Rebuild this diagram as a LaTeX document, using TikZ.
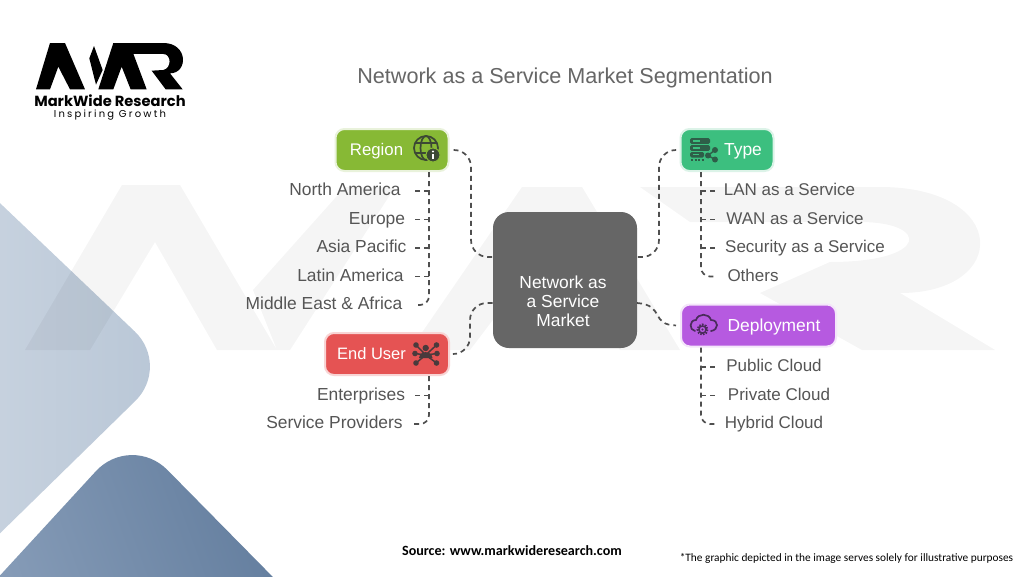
\documentclass[tikz,border=0pt]{standalone}
\usepackage{fontspec}
\setmainfont{Liberation Sans}
\newfontfamily\logofont{Poppins}
\newfontfamily\calib{Carlito}
\usetikzlibrary{calc}
\definecolor{ink}{HTML}{555555}
\definecolor{lineink}{HTML}{4F4F4F}
\definecolor{regionc}{HTML}{87B935}
\definecolor{typec}{HTML}{3CBF7F}
\definecolor{deployc}{HTML}{B65AE0}
\definecolor{userc}{HTML}{E55353}
\tikzset{
  catbox/.style={rounded corners=9pt,minimum height=42pt,inner sep=0pt,line width=2pt},
  itemlabel/.style={inner sep=0pt,text=ink,font=\fontsize{17.4}{19}\selectfont,text height=12.5pt,text depth=3.5pt},
  itemright/.style={itemlabel,font=\fontsize{17}{19}\selectfont},
  catlabel/.style={inner sep=0pt,text=white,font=\fontsize{17.4}{19}\selectfont,text height=12.5pt,text depth=3.5pt},
  conn/.style={draw=lineink,line width=1.7pt,dash pattern=on 5pt off 4pt},
  mark stroke/.style={line width=1.7pt,fill=none},
}
\begin{document}
\begin{tikzpicture}[x=1pt,y=-1pt]
\useasboundingbox (0,0) rectangle (1024,576);
\fill[white] (0,0) rectangle (1024,576);
% background diamonds
\begin{scope}
\clip (0,0) rectangle (1024,576);
\shade[rounded corners=50pt,left color={rgb,255:red,203;green,213;blue,225},right color={rgb,255:red,184;green,198;blue,214}]
  (-60,146) -- (171,366) -- (-60,592) -- cycle;
\shade[rounded corners=52pt,left color={rgb,255:red,146;green,166;blue,192},right color={rgb,255:red,88;green,116;blue,150},shading angle=110]
  (-120,706) -- (131,433) -- (400,706) -- cycle;
% large faint watermark
\fill[black,opacity=.04]
  (25,350) -- (122,185) -- (180,185) -- (277,350) -- (217,350) -- (155,242) -- (90,350) -- cycle
  (253,290) -- (345,187) -- (395,187) -- (290,350) -- (277,350) -- cycle
  (410,350) -- (522,187) -- (582,187) -- (680,350) -- (620,350) -- (552,242) -- (470,350) -- cycle
  (640,187) -- (880,187) .. controls (1010,187) and (1010,293) .. (900,293) -- (995,350) -- (862,350) -- (760,293) -- (830,262)
  .. controls (930,262) and (930,222) .. (860,222) -- (690,222) -- cycle;
\end{scope}
% logo
\begin{scope}[shift={(0,20)},x=.3333pt,y=-.3333pt]
\fill[black] (108,208) -- (150,69) -- (195,69) -- (255,208) -- (210,208) -- (175,140) -- (150,208) -- cycle;
\fill[black] (268,115) -- (282,78) -- (308,150) -- (288,194) -- cycle;
\fill[black] (295,208) -- (340,69) -- (388,69) -- (440,208) -- (392,208) -- (365,140) -- (340,208) -- cycle;
\fill[black] (378,69) -- (490,69) .. controls (565,69) and (565,160) .. (510,160) -- (548,208) -- (497,208) -- (455,152) -- (490,150)
  .. controls (515,145) and (515,102) .. (490,102) -- (395,102) -- cycle;
\end{scope}
\node[name=logoname,inner sep=0pt,font=\logofont\bfseries\fontsize{14.66}{16}\selectfont] at (110,100.5) {MarkWide Research};
\node[name=logotag,inner sep=0pt,font=\logofont\fontsize{10}{12}\selectfont\addfontfeature{LetterSpace=22}] at (110,115.5) {Inspiring Growth};
% title
\node[name=title,inner sep=0pt,text=ink!90!white,font=\fontsize{21.6}{24}\selectfont] at (565,77.5) {Network as a Service Market Segmentation};
% boxes
\node[catbox,name=center,fill=black!60,minimum width=144pt,minimum height=136pt,rounded corners=16pt] at (565,280) {};
\node[catbox,name=region,fill=regionc,draw=regionc!18!white,minimum width=113pt] at (392,150) {};
\node[catbox,name=typebox,fill=typec,draw=typec!18!white,minimum width=93pt] at (727,150) {};
\node[catbox,name=deploy,fill=deployc,draw=deployc!15!white,minimum width=155pt] at (758.5,325.5) {};
\node[catbox,name=enduser,fill=userc,draw=userc!25!white,minimum width=124pt] at (387,354) {};
\node[name=centertext,align=center,text=white,inner sep=0pt,font=\fontsize{17.4}{19}\selectfont] at (563,301) {Network as\\a Service\\Market};
\node[catlabel,name=regionlabel,font=\fontsize{16.8}{19}\selectfont] at (376.5,151) {Region};
\node[catlabel,name=typelabel] at (743,151) {Type};
\node[catlabel,name=deploylabel] at (774,327) {Deployment};
\node[catlabel,name=userlabel,font=\fontsize{16.5}{19}\selectfont] at (371.5,355) {End User};
% items
\node[itemlabel,name=na] at (345,191) {North America};
\node[itemlabel,name=eu] at (377,219.5) {Europe};
\node[itemlabel,name=ap] at (361.5,248) {Asia Pacific};
\node[itemlabel,name=la] at (350.5,276.5) {Latin America};
\node[itemlabel,name=me] at (324,305) {Middle East \& Africa};
\node[itemlabel,name=en] at (361,395.5) {Enterprises};
\node[itemlabel,name=sp] at (334.5,424) {Service Providers};
\node[itemright,name=lan] at (789.5,191) {LAN as a Service};
\node[itemright,name=wan] at (795,219.5) {WAN as a Service};
\node[itemright,name=sec] at (805,248) {Security as a Service};
\node[itemright,name=oth] at (753,276.5) {Others};
\node[itemright,name=pub] at (774,367) {Public Cloud};
\node[itemright,name=pri] at (779,395.5) {Private Cloud};
\node[itemright,name=hyb] at (774,424) {Hybrid Cloud};
% trunks
\coordinate (trL) at (429,0);
\coordinate (trR) at (701,0);
\coordinate (busRegion) at (471,0);
\coordinate (busUser) at (470,0);
\coordinate (busType) at (659,0);
\coordinate (inA) at (493,257);
\coordinate (inB) at (493,303);
\coordinate (inC) at (637,257);
\coordinate (inD) at (637,303);
% centre connectors
\draw[conn,rounded corners=17pt,shorten <=4pt] (region.east) -- (busRegion |- region.east) -- (busRegion |- inA) -- (inA);
\draw[conn,rounded corners=17pt,shorten <=4pt] (typebox.west) -- (busType |- typebox.west) -- (busType |- inC) -- (inC);
\draw[conn,rounded corners=17pt,shorten <=4pt] (enduser.east) -- (busUser |- enduser.east) -- (busUser |- inB) -- (inB);
\draw[conn,shorten >=4pt] (inD) .. controls (665,305) and (650,325) .. (deploy.west);
% region branches
\draw[conn,rounded corners=9pt,shorten >=12pt] (trL |- region.south) -- (trL |- me) -- (me.east);
\draw[conn,shorten >=13pt] (trL |- na) -- (na.east);
\draw[conn,shorten >=10pt] (trL |- eu) -- (eu.east);
\draw[conn,shorten >=7pt] (trL |- ap) -- (ap.east);
\draw[conn,shorten >=10pt] (trL |- la) -- (la.east);
% user branches
\draw[conn,rounded corners=9pt,shorten >=11pt] (trL |- enduser.south) -- (trL |- sp) -- (sp.east);
\draw[conn,shorten >=10pt] (trL |- en) -- (en.east);
% type branches
\draw[conn,rounded corners=9pt,shorten >=11pt] (trR |- typebox.south) -- (trR |- oth) -- (oth.west);
\draw[conn,shorten >=8pt] (trR |- lan) -- (lan.west);
\draw[conn,shorten >=11pt] (trR |- wan) -- (wan.west);
\draw[conn,shorten >=9pt] (trR |- sec) -- (sec.west);
% deployment branches
\draw[conn,rounded corners=9pt,shorten >=8pt] (trR |- deploy.south) -- (trR |- hyb) -- (hyb.west);
\draw[conn,shorten >=10pt] (trR |- pub) -- (pub.west);
\draw[conn,shorten >=12pt] (trR |- pri) -- (pri.west);
% globe icon
\begin{scope}[draw={rgb,255:red,60;green,72;blue,52}]
\draw[mark stroke] (426,148) circle (12);
\draw[mark stroke] (426,148) ellipse (5.5 and 12);
\draw[mark stroke] (415,143) -- (437,143) (415,153) -- (437,153);
\fill[fill={rgb,255:red,60;green,72;blue,52},draw=regionc,line width=1pt] (433,155) circle (7);
\fill[white] (432.1,153.6) rectangle (433.9,159);
\fill[white] (433,151.5) circle (1.1);
\end{scope}
% server icon
\begin{scope}
\definecolor{sv}{HTML}{2E5E48}
\foreach \yy in {141,148}{\fill[sv,rounded corners=1.5pt] (690,\yy-2.8) rectangle (710,\yy+2.8);
  \fill[typec] (693,\yy-.7) rectangle (700,\yy+.7);}
\fill[sv,rounded corners=1.5pt] (690,152) rectangle (704,157.5);
\fill[typec] (693,154) rectangle (699,155.3);
\draw[sv,line width=1.1pt,dash pattern=on 2pt off 1.5pt] (691,160) -- (704,160);
\draw[sv,line width=1.4pt] (715,150) -- (708,155.5) -- (715,159.5);
\fill[sv] (708,155.5) circle (3) (715,150) circle (3) (715,159.5) circle (3);
\end{scope}
% cloud gear icon
\begin{scope}
\definecolor{cg}{HTML}{4A2C5C}
\draw[cg,line width=1.7pt,line cap=round] (695,331) .. controls (689,330) and (689,320) .. (696,320)
  .. controls (698,313) and (709,313) .. (711,320) .. controls (719,320) and (719,330) .. (711,331);
\draw[cg,line width=2pt,dash pattern=on 1.6pt off 1.2pt] (702.5,329.5) circle (5);
\draw[cg,line width=1.5pt] (702.5,329.5) circle (3.6);
\fill[cg] (702.5,329.5) circle (1.2);
\end{scope}
% people network icon
\begin{scope}
\definecolor{pn}{HTML}{4A3A3C}
\foreach \xx/\yy in {416/345,436.5/345,415/353.5,437/353.5,416/363,436.5/363}{
  \draw[pn,line width=1.5pt] (425.7,355) -- (\xx,\yy);
  \fill[pn] (\xx,\yy) circle (2.8);}
\fill[pn] (425.7,348) circle (3.2);
\fill[pn] (419,358) .. controls (420,350) and (431.5,350) .. (432.5,358) -- cycle;
\end{scope}
% captions
\node[name=source,inner sep=0pt,font=\calib\bfseries\fontsize{14.1}{16}\selectfont] at (512,551) {Source: www.markwideresearch.com};
\node[name=note,inner sep=0pt,font=\calib\fontsize{11.34}{13}\selectfont] at (846.5,558) {*The graphic depicted in the image serves solely for illustrative purposes};
\end{tikzpicture}
\end{document}
